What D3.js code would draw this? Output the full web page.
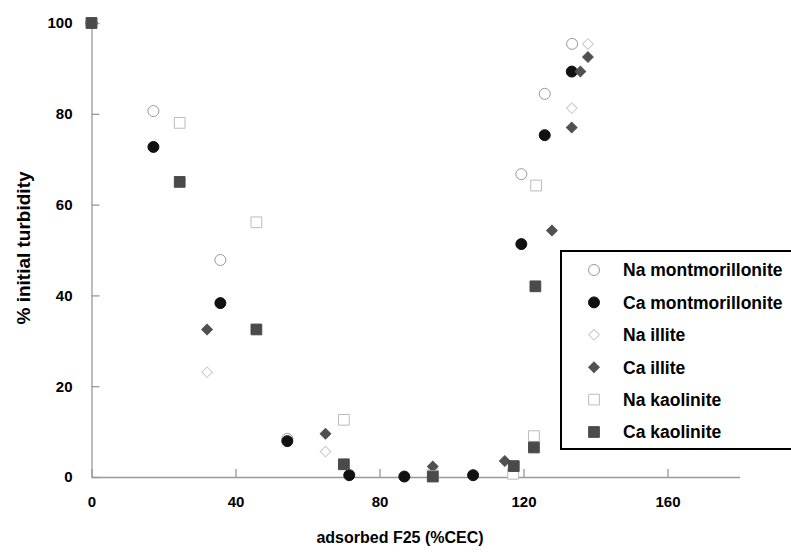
<!DOCTYPE html>
<html><head><meta charset="utf-8">
<script src="https://cdn.jsdelivr.net/npm/d3@7"></script>
<style>body{margin:0;background:#fff}svg{display:block;font-family:"Liberation Sans",Arial,sans-serif}</style>
</head><body><svg id="c" width="791" height="552"></svg>
<script>
const seriesNames = ["Na montmorillonite","Ca montmorillonite","Na illite","Ca illite","Na kaolinite","Ca kaolinite"];
const naMontX = [0, 17.2, 35.8, 54.4, 119.4, 125.9, 133.5];
const naMontY = [100, 80.6, 47.8, 8.4, 66.7, 84.4, 95.4];
const caMontX = [0, 17.2, 35.8, 54.4, 71.6, 86.9, 106, 119.4, 125.9, 133.4];
const caMontY = [100, 72.7, 38.3, 7.9, 0.4, 0.1, 0.4, 51.3, 75.3, 89.3];
const naIlliteX = [0, 32.1, 65, 94.8, 133.4, 137.9];
const naIlliteY = [100, 23.1, 5.6, 1.5, 81.2, 95.4];
const caIlliteX = [0, 32.1, 65, 94.8, 114.8, 127.9, 133.4, 135.8, 137.9];
const caIlliteY = [100, 32.5, 9.5, 2.3, 3.5, 54.3, 77, 89.3, 92.5];
const naKaolX = [0, 24.5, 45.8, 70.1, 94.8, 117.1, 122.9, 123.5];
const naKaolY = [100, 78, 56.1, 12.6, 0.2, 0.7, 9, 64.2];
const caKaolX = [0, 24.5, 45.8, 70.1, 94.8, 117.3, 122.9, 123.3];
const caKaolY = [100, 65, 32.5, 2.8, 0.1, 2.4, 6.5, 42];
const xTicks = [0, 40, 80, 120, 160];
const yTicks = [0, 20, 40, 60, 80, 100];

const styles = [
  {shape:"circle", fill:"#fff", stroke:"#999"},
  {shape:"circle", fill:"#111", stroke:"#111"},
  {shape:"diamond", fill:"#fff", stroke:"#c8c8c8"},
  {shape:"diamond", fill:"#505050", stroke:"#505050"},
  {shape:"square", fill:"#fff", stroke:"#bbb"},
  {shape:"square", fill:"#4a4a4a", stroke:"#4a4a4a"}
];
const xs=[naMontX,caMontX,naIlliteX,caIlliteX,naKaolX,caKaolX];
const ys=[naMontY,caMontY,naIlliteY,caIlliteY,naKaolY,caKaolY];

const svg=d3.select("#c");
const x=d3.scaleLinear().domain([0,180]).range([91.5,739.5]);
const y=d3.scaleLinear().domain([0,100]).range([477,23]);

// axes
const ax=svg.append("g").attr("transform","translate(0,477)")
  .call(d3.axisBottom(x).tickValues(xTicks).tickSizeInner(-8).tickSizeOuter(0));
const ay=svg.append("g").attr("transform","translate(91.5,0)")
  .call(d3.axisLeft(y).tickValues(yTicks).tickSizeInner(-8).tickSizeOuter(0).tickPadding(19));
[ax,ay].forEach(g=>{
  g.selectAll("path,line").attr("stroke","#999").attr("stroke-width",1.3);
  g.selectAll("text").attr("font-family","Liberation Sans, Arial, sans-serif").attr("font-size",15).attr("font-weight","bold").attr("fill","#000");
});
ax.selectAll("text").attr("dy",null).attr("y",30);

svg.append("text").attr("x",400).attr("y",543).attr("text-anchor","middle")
  .attr("font-size",16).attr("font-weight","bold").text("adsorbed F25 (%CEC)");
svg.append("text").attr("transform","translate(30,248) rotate(-90)").attr("text-anchor","middle")
  .attr("font-size",19).attr("font-weight","bold").text("% initial turbidity");

function sym(st){
  if(st.shape==="circle") return d3.symbol(d3.symbolCircle,95)();
  if(st.shape==="square") return d3.symbol(d3.symbolSquare,115)();
  return d3.symbol(d3.symbolSquare,56)();
}
function rot(st){return st.shape==="diamond"?" rotate(45)":"";}

styles.forEach((st,i)=>{
  svg.append("g").selectAll("path").data(xs[i].map((v,j)=>[v,ys[i][j]])).join("path")
    .attr("d",sym(st)).attr("transform",d=>`translate(${x(d[0])},${y(d[1])})${rot(st)}`)
    .attr("fill",st.fill).attr("stroke",st.stroke).attr("stroke-width",1);
});

// legend
const lg=svg.append("g");
lg.append("rect").attr("x",561).attr("y",251).attr("width",260).attr("height",198)
  .attr("fill","#fff").attr("stroke","#000").attr("stroke-width",2);
seriesNames.forEach((n,i)=>{
  const cy=270+i*32.4;
  const st=styles[i];
  lg.append("path").attr("d",sym(st)).attr("transform",`translate(594,${cy})${rot(st)}`)
    .attr("fill",st.fill).attr("stroke",st.stroke);
  lg.append("text").attr("x",623).attr("y",cy).attr("dy","0.36em").attr("font-size",17.5)
    .attr("font-weight","bold").text(n);
});
</script></body></html>
